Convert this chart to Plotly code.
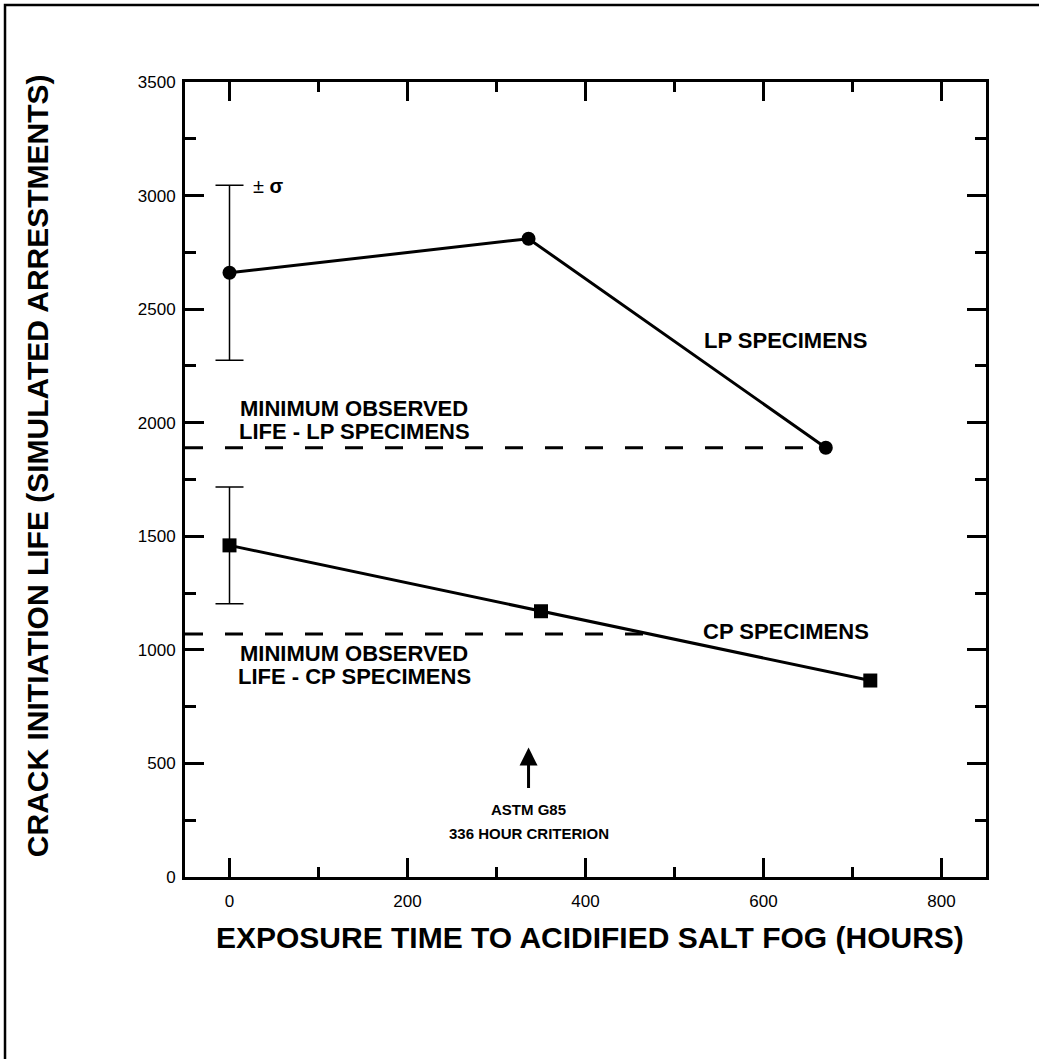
import plotly.graph_objects as go

# ---- data ----
hours_lp = [0, 336, 670]
life_lp = [2660, 2810, 1890]
sigma_lp = [385]

hours_cp = [0, 350, 720]
life_cp = [1460, 1170, 865]
sigma_cp = [257]

min_lp = 1890
min_cp = 1070
astm_hours = 336

x_ticks = [0, 200, 400, 600, 800]
y_ticks = [0, 500, 1000, 1500, 2000, 2500, 3000, 3500]
x_range = [-50, 850]
y_range = [0, 3500]

# CP dashed line ends where it meets the CP curve
x2, x3 = hours_cp[1], hours_cp[2]
y2, y3 = life_cp[1], life_cp[2]
cp_dash_end = x2 + (min_cp - y2) * (x3 - x2) / (y3 - y2)

FONT = "Liberation Sans, Arial, sans-serif"

fig = go.Figure()

# error bars
fig.add_trace(go.Scatter(x=[hours_lp[0]], y=[life_lp[0]], mode="markers",
                         marker=dict(size=2, color="black"),
                         error_y=dict(type="data", array=sigma_lp, color="black",
                                      thickness=1.5, width=14),
                         showlegend=False, hoverinfo="skip"))
fig.add_trace(go.Scatter(x=[hours_cp[0]], y=[life_cp[0]], mode="markers",
                         marker=dict(size=2, color="black"),
                         error_y=dict(type="data", array=sigma_cp, color="black",
                                      thickness=1.5, width=14),
                         showlegend=False, hoverinfo="skip"))

# minimum observed life dashed lines
fig.add_trace(go.Scatter(x=[x_range[0], hours_lp[-1]], y=[min_lp, min_lp], mode="lines",
                         line=dict(color="black", width=3, dash="18px,22px"),
                         showlegend=False))
fig.add_trace(go.Scatter(x=[x_range[0], cp_dash_end], y=[min_cp, min_cp], mode="lines",
                         line=dict(color="black", width=3, dash="18px,22px"),
                         showlegend=False))

# data series
fig.add_trace(go.Scatter(x=hours_lp, y=life_lp, mode="lines+markers", name="LP SPECIMENS",
                         line=dict(color="black", width=3),
                         marker=dict(symbol="circle", size=14, color="black"),
                         showlegend=False))
fig.add_trace(go.Scatter(x=hours_cp, y=life_cp, mode="lines+markers", name="CP SPECIMENS",
                         line=dict(color="black", width=3),
                         marker=dict(symbol="square", size=14, color="black"),
                         showlegend=False))

axis_common = dict(
    showline=True, linecolor="black", linewidth=3, mirror="ticks",
    ticks="inside", ticklen=19, tickwidth=3, tickcolor="black",
    showgrid=False, zeroline=False,
    tickfont=dict(family=FONT, size=17, color="black"),
)

fig.update_xaxes(range=x_range, tickvals=x_ticks, ticklabelstandoff=7,
                 minor=dict(ticks="inside", ticklen=10, tickwidth=3, tickcolor="black", dtick=100,
                            tick0=0, showgrid=False),
                 **axis_common)
fig.update_yaxes(range=y_range, tickvals=y_ticks, ticklabelstandoff=3,
                 minor=dict(ticks="inside", ticklen=11, tickwidth=3, tickcolor="black", dtick=250,
                            tick0=0, showgrid=False),
                 **axis_common)

bold = dict(family=FONT, size=22, color="black")
ann = []
ann.append(dict(x=24, y=3044, xref="x", yref="y", text="± <b>σ</b>", showarrow=False,
                xanchor="left", yanchor="middle", font=dict(family=FONT, size=20, color="black")))
ann.append(dict(x=625, y=2360, xref="x", yref="y", text="<b>LP SPECIMENS</b>", showarrow=False,
                font=bold))
ann.append(dict(x=625, y=1083, xref="x", yref="y", text="<b>CP SPECIMENS</b>", showarrow=False,
                font=bold))
ann.append(dict(x=140, y=2063, xref="x", yref="y", text="<b>MINIMUM OBSERVED</b>", showarrow=False,
                font=bold))
ann.append(dict(x=140, y=1962, xref="x", yref="y", text="<b>LIFE - LP SPECIMENS</b>", showarrow=False,
                font=bold))
ann.append(dict(x=140, y=986, xref="x", yref="y", text="<b>MINIMUM OBSERVED</b>", showarrow=False,
                font=bold))
ann.append(dict(x=140, y=882, xref="x", yref="y", text="<b>LIFE - CP SPECIMENS</b>", showarrow=False,
                font=bold))
# ASTM arrow
ann.append(dict(x=astm_hours, y=570, ax=astm_hours, ay=385, xref="x", yref="y",
                axref="x", ayref="y", text="", showarrow=True, arrowhead=2,
                arrowsize=1.2, arrowwidth=3, arrowcolor="black"))
ann.append(dict(x=astm_hours, y=295, xref="x", yref="y", text="<b>ASTM G85</b>", showarrow=False,
                font=dict(family=FONT, size=15, color="black")))
ann.append(dict(x=astm_hours, y=190, xref="x", yref="y", text="<b>336 HOUR CRITERION</b>",
                showarrow=False, font=dict(family=FONT, size=15, color="black")))
# axis titles
ann.append(dict(x=0.5056, y=-0.0755, xref="paper", yref="paper",
                text="<b>EXPOSURE TIME TO ACIDIFIED SALT FOG (HOURS)</b>", showarrow=False,
                xanchor="center", yanchor="middle", font=dict(family=FONT, size=30, color="black")))
ann.append(dict(x=-0.1848, y=0.518, xref="paper", yref="paper", textangle=-90,
                text="<b>CRACK INITIATION LIFE (SIMULATED ARRESTMENTS)</b>", showarrow=False,
                xanchor="center", yanchor="middle", font=dict(family=FONT, size=30, color="black")))

fig.update_layout(
    width=1039, height=1059,
    margin=dict(l=185, r=53, t=82, b=182),
    paper_bgcolor="white", plot_bgcolor="white",
    annotations=ann,
    shapes=[dict(type="rect", xref="paper", yref="paper",
                 x0=-0.2247, y0=-0.3, x1=1.2, y1=1.097,
                 line=dict(color="black", width=2.5), layer="above")],
    showlegend=False,
)

fig.write_html("out.html",
               config={"displayModeBar": False},
               post_script="document.body.style.margin='0';document.body.style.overflow='hidden';")
